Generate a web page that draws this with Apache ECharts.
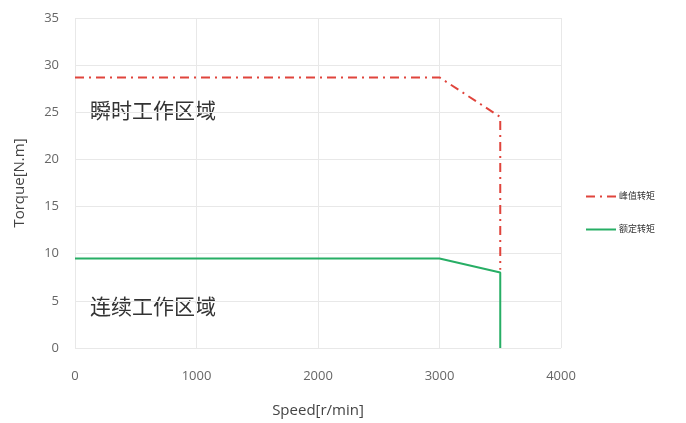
<!DOCTYPE html>
<html><head><meta charset="utf-8">
<script src="https://cdn.jsdelivr.net/npm/echarts@6/dist/echarts.min.js"></script>
<style>html,body{margin:0;padding:0;background:#fff}#c{width:686px;height:423px}</style>
</head><body><div id="c"></div>
<script>
const seriesNames = ['峰值转矩', '额定转矩'];
const peakSpeed = [0, 3000, 3500, 3500];
const peakTorque = [28.7, 28.7, 24.5, 8.3];
const ratedSpeed = [0, 3000, 3500, 3500];
const ratedTorque = [9.5, 9.5, 8.0, 0];
const regionLabels = ['瞬时工作区域', '连续工作区域'];

const chart = echarts.init(document.getElementById('c'));
const font = '"Open Sans", "Noto Sans CJK SC", sans-serif';
chart.setOption({
  animation: false,
  grid: { left: 75, right: 125, top: 18, bottom: 73 },
  legend: {
    orient: 'vertical', right: 26, top: 187, itemGap: 24, itemWidth: 30, itemHeight: 10,
    itemStyle: { opacity: 0 },
    textStyle: { fontSize: 9, color: '#333', fontFamily: font, padding: [0, 0, 0, -2] },
    data: seriesNames
  },
  xAxis: {
    type: 'value', min: 0, max: 4000, interval: 1000,
    name: 'Speed[r/min]', nameLocation: 'middle', nameGap: 55,
    nameTextStyle: { fontSize: 15, color: '#444', fontFamily: font },
    axisLine: { show: false }, axisTick: { show: false },
    axisLabel: { margin: 22, fontSize: 13, color: '#666', fontFamily: font, formatter: v => String(v) },
    splitLine: { lineStyle: { color: '#e8e8e8' } }
  },
  yAxis: {
    type: 'value', min: 0, max: 35, interval: 5,
    name: 'Torque[N.m]', nameLocation: 'middle', nameGap: 48,
    nameTextStyle: { fontSize: 15, color: '#444', fontFamily: font },
    axisLine: { show: false }, axisTick: { show: false },
    axisLabel: { margin: 16, fontSize: 13, color: '#666', fontFamily: font },
    splitLine: { lineStyle: { color: '#e8e8e8' } }
  },
  series: [
    {
      name: seriesNames[0], type: 'line', symbol: 'none',
      data: peakSpeed.map((s, i) => [s, peakTorque[i]]),
      lineStyle: { color: '#e0443c', width: 2, type: [9, 5, 2, 5] },
      itemStyle: { color: '#e0443c' }
    },
    {
      name: seriesNames[1], type: 'line', symbol: 'none',
      data: ratedSpeed.map((s, i) => [s, ratedTorque[i]]),
      lineStyle: { color: '#27ae65', width: 2 },
      itemStyle: { color: '#27ae65' }
    }
  ],
  graphic: [
    { type: 'text', left: 90, top: 100, style: { text: regionLabels[0], fontSize: 21, fill: '#333', fontFamily: '"Noto Sans CJK SC", sans-serif' } },
    { type: 'text', left: 90, top: 296, style: { text: regionLabels[1], fontSize: 21, fill: '#333', fontFamily: '"Noto Sans CJK SC", sans-serif' } }
  ]
});
</script></body></html>
